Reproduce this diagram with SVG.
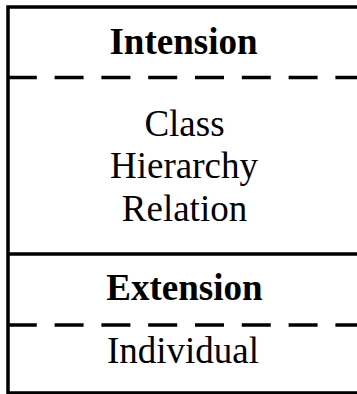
<svg xmlns="http://www.w3.org/2000/svg" width="357" height="394" viewBox="0 0 357 394">
  <style>
    .frame { fill: none; stroke: #000; stroke-width: 3.5; }
    .rule { stroke: #000; stroke-width: 3.5; fill: none; }
    .dash { stroke: #000; stroke-width: 3.5; fill: none; stroke-dasharray: 29 17.8; stroke-dashoffset: -0.8; }
    .head { font-family: "Liberation Serif", "Times New Roman", serif; font-weight: bold; font-size: 37px; text-anchor: middle; fill: #000; }
    .body { font-family: "Liberation Serif", "Times New Roman", serif; font-size: 37px; text-anchor: middle; fill: #000; }
  </style>

  <rect width="357" height="394" fill="#fff"/>

  <!-- outer frame: top, left, bottom edges (right side runs off the canvas) -->
  <g id="frame">
    <path class="frame" d="M 362 7 H 8 V 393 H 362"/>
  </g>

  <!-- separators -->
  <g id="connectors">
    <line class="dash" x1="7" y1="77.5" x2="362" y2="77.5"/>
    <line class="rule" x1="8" y1="254" x2="362" y2="254"/>
    <line class="dash" x1="7" y1="325" x2="362" y2="325"/>
  </g>

  <g id="intension">
    <text class="head" x="183.5" y="54">Intension</text>
  </g>

  <g id="intension-items">
    <text class="body" x="184.5" y="136">Class</text>
    <text class="body" x="184" y="178">Hierarchy</text>
    <text class="body" x="184.5" y="221">Relation</text>
  </g>

  <g id="extension">
    <text class="head" x="184.5" y="300">Extension</text>
  </g>

  <g id="extension-items">
    <text class="body" x="183" y="363">Individual</text>
  </g>
</svg>
